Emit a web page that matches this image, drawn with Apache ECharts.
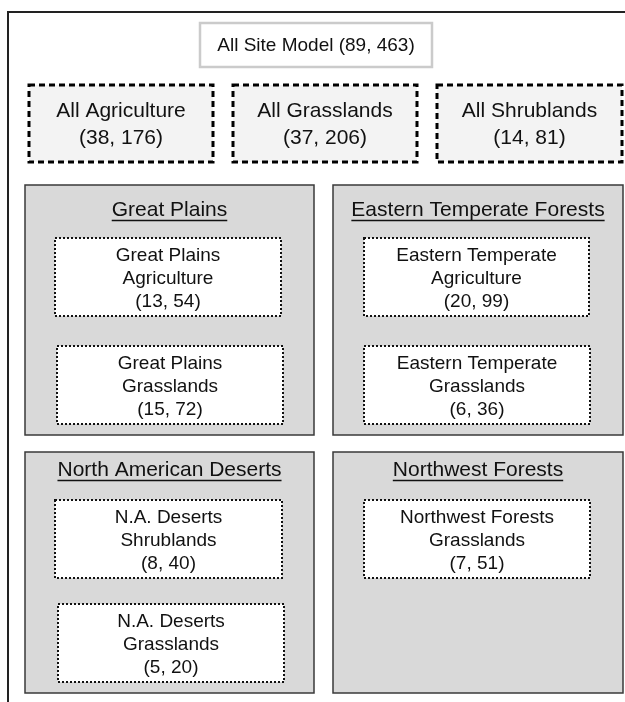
<!DOCTYPE html>
<html><head><meta charset="utf-8">
<script src="https://cdn.jsdelivr.net/npm/echarts@6/dist/echarts.min.js"></script>
<style>html,body{margin:0;padding:0;background:#fff}#c{width:625px;height:702px}</style>
</head><body><div id="c"></div>
<script>
// ---- data ----
const topName = 'All Site Model';
const topSites = [89];
const topObs = [463];
const coverNames = ['All Agriculture', 'All Grasslands', 'All Shrublands'];
const coverSites = [38, 37, 14];
const coverObs = [176, 206, 81];
const regionNames = ['Great Plains', 'Eastern Temperate Forests', 'North American Deserts', 'Northwest Forests'];
const subRegion = [0, 0, 1, 1, 2, 2, 3];
const subSlot = [0, 1, 0, 1, 0, 1, 0];
const subPlace = ['Great Plains', 'Great Plains', 'Eastern Temperate', 'Eastern Temperate', 'N.A. Deserts', 'N.A. Deserts', 'Northwest Forests'];
const subCover = ['Agriculture', 'Grasslands', 'Agriculture', 'Grasslands', 'Shrublands', 'Grasslands', 'Grasslands'];
const subSites = [13, 15, 20, 6, 8, 5, 7];
const subObs = [54, 72, 99, 36, 40, 20, 51];

// ---- layout (diagram units on hidden value axes) ----
const L = {
  frame: [8, 12],
  top: [200, 23, 432, 67],
  cover: [[29, 85, 213, 162], [233, 85, 417, 162], [437, 85, 622, 162]],
  region: [[25, 185, 314, 435], [333, 185, 623, 435], [25, 452, 314, 693], [333, 452, 623, 693]],
  titleDy: [25, 25, 18, 18],
  slot: [
    [[55, 238, 281, 316], [57, 346, 283, 424]],
    [[364, 238, 589, 316], [364, 346, 590, 424]],
    [[55, 500, 282, 578], [58, 604, 284, 682]],
    [[364, 500, 590, 578]]
  ]
};
const FONT = '"Liberation Sans", Arial, sans-serif';
const TXT = '#111';

const measureCtx = document.createElement('canvas').getContext('2d');
function textW(str, size) { measureCtx.font = size + 'px ' + FONT; return measureCtx.measureText(str).width; }

function rectShape(api, b) {
  const p0 = api.coord([b[0], b[1]]);
  const p1 = api.coord([b[2], b[3]]);
  return { x: p0[0], y: p0[1], width: p1[0] - p0[0], height: p1[1] - p0[1] };
}
function centerOf(api, b) {
  return api.coord([(b[0] + b[2]) / 2, (b[1] + b[3]) / 2]);
}
function label(x, y, text, size, lh) {
  return {
    type: 'text', x: x, y: y,
    style: { text: text, font: size + 'px ' + FONT, fill: TXT, align: 'center', verticalAlign: 'middle', lineHeight: lh }
  };
}

const chart = echarts.init(document.getElementById('c'), null, { renderer: 'canvas' });
const base = { type: 'custom', coordinateSystem: 'cartesian2d', silent: true, clip: false, animation: false };

chart.setOption({
  animation: false,
  grid: { left: 0, right: 0, top: 0, bottom: 0 },
  xAxis: { type: 'value', min: 0, max: 625, show: false },
  yAxis: { type: 'value', min: 0, max: 702, inverse: true, show: false },
  series: [
    Object.assign({}, base, {
      data: [[0, 0]],
      renderItem: function (params, api) {
        const f = L.frame;
        return {
          type: 'polyline',
          shape: { points: [api.coord([f[0], 702]), api.coord([f[0], f[1]]), api.coord([625, f[1]])] },
          style: { stroke: '#222', lineWidth: 2, fill: null }
        };
      }
    }),
    Object.assign({}, base, {
      data: topSites.map((s, i) => [i, s]),
      renderItem: function (params, api) {
        const i = params.dataIndex;
        const c = centerOf(api, L.top);
        return {
          type: 'group', children: [
            { type: 'rect', shape: rectShape(api, L.top), style: { fill: '#fff', stroke: '#cbcbcb', lineWidth: 2.5 } },
            label(c[0], c[1] + 1, topName + ' (' + topSites[i] + ', ' + topObs[i] + ')', 19, 24)
          ]
        };
      }
    }),
    Object.assign({}, base, {
      data: coverSites.map((s, i) => [i, s]),
      renderItem: function (params, api) {
        const i = params.dataIndex;
        const b = L.cover[i];
        const c = centerOf(api, b);
        return {
          type: 'group', children: [
            { type: 'rect', shape: rectShape(api, b), style: { fill: '#f3f3f3', stroke: '#000', lineWidth: 3, lineDash: [6, 4] } },
            label(c[0], c[1] + 1, coverNames[i] + '\n(' + coverSites[i] + ', ' + coverObs[i] + ')', 21, 27)
          ]
        };
      }
    }),
    Object.assign({}, base, {
      data: regionNames.map((n, i) => [i, 0]),
      renderItem: function (params, api) {
        const i = params.dataIndex;
        const b = L.region[i];
        const ty = api.coord([0, b[1] + L.titleDy[i]])[1];
        const cx = centerOf(api, b)[0];
        const w = textW(regionNames[i], 21);
        return {
          type: 'group', children: [
            { type: 'rect', shape: rectShape(api, b), style: { fill: '#d9d9d9', stroke: '#3a3a3a', lineWidth: 1.5 } },
            label(cx, ty, regionNames[i], 21, 24),
            { type: 'line', shape: { x1: cx - w / 2, y1: ty + 10.5, x2: cx + w / 2, y2: ty + 10.5 }, style: { stroke: TXT, lineWidth: 1.3 } }
          ]
        };
      }
    }),
    Object.assign({}, base, {
      data: subSites.map((s, i) => [i, s]),
      renderItem: function (params, api) {
        const i = params.dataIndex;
        const b = L.slot[subRegion[i]][subSlot[i]];
        const c = centerOf(api, b);
        return {
          type: 'group', children: [
            { type: 'rect', shape: rectShape(api, b), style: { fill: '#fff', stroke: '#111', lineWidth: 2, lineDash: [2, 2] } },
            label(c[0], c[1] + 1.5, subPlace[i] + '\n' + subCover[i] + '\n(' + subSites[i] + ', ' + subObs[i] + ')', 19, 23)
          ]
        };
      }
    })
  ]
});
</script>
</body></html>
